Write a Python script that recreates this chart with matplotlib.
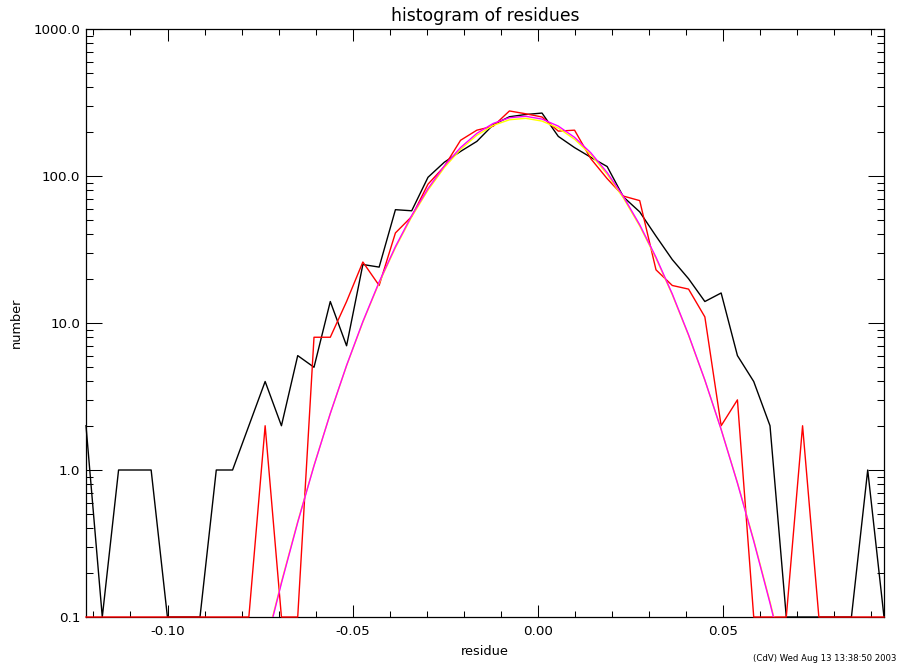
import numpy as np
import matplotlib
matplotlib.use("Agg")
import matplotlib.pyplot as plt
from matplotlib.ticker import FixedLocator, MultipleLocator, LogLocator, FixedFormatter, NullFormatter

plt.rcParams['font.family'] = ['DejaVu Sans']
plt.rcParams['axes.unicode_minus'] = False

# ---- data -------------------------------------------------------------
# histogram bin centres (uniform bins)
bin_first = -0.1220
bin_last = 0.0934
n_bins = 50

# counts of residues (zero counts are shown at the floor value 0.1)
counts_black = [2, 0.1, 1, 1, 1, 0.1, 0.1, 0.1, 1, 1,
                2, 4, 2, 6, 5, 14, 7, 25, 24, 59,
                58, 98, 124, 147, 172, 223, 253, 262, 268, 186,
                156, 134, 116, 72, 57, 39, 27, 20, 14, 16,
                6, 4, 2, 0.1, 0.1, 0.1, 0.1, 0.1, 1, 0.1]

counts_red = [0.1, 0.1, 0.1, 0.1, 0.1, 0.1, 0.1, 0.1, 0.1, 0.1,
              0.1, 2, 0.1, 0.1, 8, 8, 14, 26, 18, 41,
              53, 88, 116, 175, 205, 218, 277, 265, 252, 202,
              205, 131, 96, 73, 68, 23, 18, 17, 11, 2,
              3, 0.1, 0.1, 0.1, 2, 0.1, 0.1, 0.1, 0.1, 0.1]

# gaussian fits (amplitude, centre, sigma)
fit_yellow = (247.0, -0.0040, 0.01712)
fit_magenta = (255.0, -0.0040, 0.01706)

x_ticks = [-0.10, -0.05, 0.00, 0.05]
x_ticklabels = ["-0.10", "-0.05", "0.00", "0.05"]
y_ticks = [0.1, 1.0, 10.0, 100.0, 1000.0]
y_ticklabels = ["0.1", "1.0", "10.0", "100.0", "1000.0"]

title = "histogram of residues"
xlabel = "residue"
ylabel = "number"
stamp = "(CdV) Wed Aug 13 13:38:50 2003"

# ---- figure -----------------------------------------------------------
W, H = 897, 666
fig = plt.figure(figsize=(W / 100, H / 100), dpi=100)
L, R, T, B = 86, 884, 29, 617
ax = fig.add_axes([L / W, 1 - B / H, (R - L) / W, (B - T) / H])

x = np.linspace(bin_first, bin_last, n_bins)


def gauss(p, xx):
    a, m, s = p
    return a * np.exp(-0.5 * ((xx - m) / s) ** 2)


lw = 1.0
ax.plot(x, counts_black, color='black', lw=lw, clip_on=False, zorder=3)
ax.plot(x, counts_red, color='#ff0000', lw=lw, clip_on=False, zorder=4)
ax.plot(x, gauss(fit_yellow, x), color='#ffff00', lw=lw, zorder=5)
ax.plot(x, gauss(fit_magenta, x), color='#ff00ff', lw=lw, zorder=6)

ax.set_yscale('log')
ax.set_xlim(bin_first, bin_last)
ax.set_ylim(0.1, 1000.0)

ax.xaxis.set_major_locator(FixedLocator(x_ticks))
ax.xaxis.set_major_formatter(FixedFormatter(x_ticklabels))
ax.xaxis.set_minor_locator(MultipleLocator(0.01))
ax.yaxis.set_major_locator(FixedLocator(y_ticks))
ax.yaxis.set_major_formatter(FixedFormatter(y_ticklabels))
ax.yaxis.set_minor_locator(LogLocator(base=10, subs=np.arange(2, 10)))
ax.yaxis.set_minor_formatter(NullFormatter())

ax.tick_params(axis='x', which='major', direction='in', length=8.3, width=0.75,
               top=True, bottom=True, labelsize=9.7, pad=6)
ax.tick_params(axis='x', which='minor', direction='in', length=4.0, width=0.75,
               top=True, bottom=True)
ax.tick_params(axis='y', which='major', direction='in', length=11.3, width=0.75,
               left=True, right=True, labelsize=9.7, pad=4.3)
ax.tick_params(axis='y', which='minor', direction='in', length=5.3, width=0.75,
               left=True, right=True)
for sp in ax.spines.values():
    sp.set_linewidth(0.9)
    sp.set_color('black')

fig.text((L + R) / 2 / W, 1 - 20.7 / H, title, ha='center', va='baseline', fontsize=12.4)
fig.text((L + R) / 2 / W, 1 - 655 / H, xlabel, ha='center', va='baseline', fontsize=9.3)
fig.text(16.5 / W, 1 - 323 / H, ylabel, ha='center', va='center', rotation=90, fontsize=9.3)
fig.text(896 / W, 1 - 658.5 / H, stamp, ha='right', va='center', fontsize=6.1)

fig.savefig("out.png", dpi=100)
